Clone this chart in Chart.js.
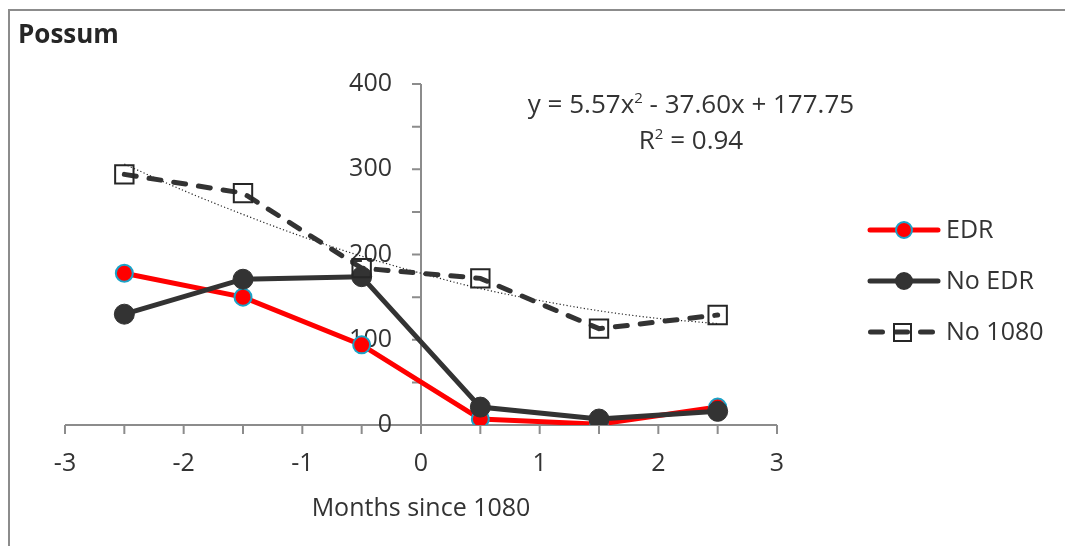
<!DOCTYPE html>
<html>
<head>
<meta charset="utf-8">
<script src="https://cdn.jsdelivr.net/npm/chart.js@4"></script>
<style>
  body { margin: 0; background: #fff; font-family: "Open Sans", "Noto Sans", sans-serif; }
  #wrap { position: relative; width: 1065px; height: 546px; overflow: hidden; }
  #frame { position: absolute; left: 8px; top: 9px; width: 1070px; height: 560px; border: 2px solid #8c8c8c; box-sizing: border-box; }
  #title { position: absolute; left: 18px; top: 15px; font-size: 26px; font-weight: bold; color: #262626; line-height: 36px; }
  #eqn { position: absolute; left: 511px; top: 85px; width: 360px; text-align: center; font-size: 26px; color: #333; line-height: 36px; }
  #eqn sup { font-size: 15px; line-height: 0; }
  canvas { position: absolute; left: 0; top: 0; }
</style>
</head>
<body>
<div id="wrap">
  <div id="frame"></div>
  <canvas id="myChart" width="1065" height="546"></canvas>
  <div id="title">Possum</div>
  <div id="eqn">y = 5.57x<sup>2</sup> - 37.60x + 177.75<br>R<sup>2</sup> = 0.94</div>
</div>
<script>
// months since 1080 drop
const months = [-2.5, -1.5, -0.5, 0.5, 1.5, 2.5];
const edr = [178, 150, 94, 7, 1, 21];
const noEdr = [130, 171, 174, 21, 7, 16];
const no1080 = [294, 272, 184, 172, 113, 129];
// poly trendline for No 1080
const trendX = [-2.5, -2, -1.5, -1, -0.5, 0, 0.5, 1, 1.5, 2, 2.5];
const trendY = [306, 275, 247, 221, 198, 178, 160, 146, 134, 125, 119];
const xTicks = [-3, -2, -1, 0, 1, 2, 3];
const yTicks = [0, 100, 200, 300, 400];

const pts = (xs, ys) => xs.map((x, i) => ({ x: x, y: ys[i] }));
const txt = '#333333';
const axisCol = '#8c8c8c';
const fam = '"Open Sans", "Noto Sans", sans-serif';

// legend drawn by hand: line with marker in the middle
const sideLegend = {
  id: 'sideLegend',
  afterDraw(chart) {
    const c = chart.ctx;
    [0, 1, 2].forEach((di, i) => {
      const ds = chart.data.datasets[di];
      const y = 230 + i * 51;
      c.save();
      c.strokeStyle = ds.borderColor;
      c.lineWidth = ds.borderWidth;
      c.lineCap = 'round';
      c.setLineDash(ds.borderDash || []);
      c.beginPath();
      c.moveTo(ds.borderDash ? 870.5 : 870, y);
      c.lineTo(ds.borderDash ? 933 : 938, y);
      c.stroke();
      c.setLineDash([]);
      if (ds.pointStyle === 'rect') {
        c.strokeStyle = ds.pointBorderColor;
        c.lineWidth = 2;
        c.strokeRect(894, y - 8, 17, 17);
      } else {
        c.fillStyle = ds.pointBackgroundColor;
        c.strokeStyle = ds.pointBorderColor;
        c.lineWidth = 2;
        c.beginPath();
        c.arc(904, y, 8, 0, Math.PI * 2);
        c.fill();
        c.stroke();
      }
      c.fillStyle = txt;
      c.font = '25px ' + fam;
      c.textBaseline = 'middle';
      c.fillText(ds.label, 946, y + 1);
      c.restore();
    });
  }
};

const ctx = document.getElementById('myChart').getContext('2d');
const myChart = new Chart(ctx, {
  type: 'scatter',
  data: {
    datasets: [{
      label: 'EDR',
      data: pts(months, edr),
      showLine: true,
      borderColor: '#ff0000',
      borderWidth: 5,
      pointBackgroundColor: '#ff0000',
      pointBorderColor: '#1aa3c8',
      pointBorderWidth: 2,
      pointRadius: 8.5,
      order: 2
    }, {
      label: 'No EDR',
      data: pts(months, noEdr),
      showLine: true,
      borderColor: '#333333',
      borderWidth: 5,
      pointBackgroundColor: '#333333',
      pointBorderColor: '#333333',
      pointBorderWidth: 1,
      pointRadius: 10,
      order: 1
    }, {
      label: 'No 1080',
      data: pts(months, no1080),
      showLine: true,
      borderColor: '#333333',
      borderWidth: 5,
      borderDash: [12, 13],
      borderCapStyle: 'round',
      pointStyle: 'rect',
      pointBackgroundColor: 'rgba(255,255,255,0)',
      pointBorderColor: '#262626',
      pointBorderWidth: 2,
      pointRadius: 13,
      order: 0
    }, {
      label: 'trend',
      data: pts(trendX, trendY),
      showLine: true,
      borderColor: '#262626',
      borderWidth: 1.2,
      borderDash: [1.2, 2.3],
      pointRadius: 0,
      cubicInterpolationMode: 'monotone',
      order: 3
    }]
  },
  options: {
    responsive: false,
    animation: false,
    layout: { padding: { left: 65, right: 288, top: 84, bottom: 30.5 } },
    plugins: {
      legend: { display: false },
      tooltip: { enabled: false }
    },
    scales: {
      x: {
        type: 'linear',
        position: 'bottom',
        min: -3, max: 3,
        grid: { display: false, drawTicks: false },
        border: { display: false },
        ticks: {
          stepSize: 1,
          color: txt,
          font: { size: 25, family: fam },
          padding: 24,
          callback: v => xTicks.includes(v) ? String(v) : ''
        },
        title: {
          display: true,
          text: 'Months since 1080',
          color: txt,
          font: { size: 25, family: fam, lineHeight: 0.5 },
          padding: { top: 0, bottom: 0 }
        }
      },
      y: {
        type: 'linear',
        position: { x: 0 },
        min: 0, max: 400,
        grid: { display: false, drawTicks: false },
        border: { display: false },
        ticks: { stepSize: 100, display: false }
      }
    }
  },
  plugins: [sideLegend, {
    // axis lines, outward tick marks every half step, y labels left of the axis
    id: 'axesDraw',
    beforeDatasetsDraw(chart) {
      const c = chart.ctx, xs = chart.scales.x, ys = chart.scales.y;
      const x0 = xs.getPixelForValue(0), y0 = ys.getPixelForValue(0);
      c.save();
      c.strokeStyle = axisCol;
      c.lineWidth = 2;
      c.beginPath();
      c.moveTo(xs.left, y0); c.lineTo(xs.right, y0);
      c.moveTo(x0, ys.top); c.lineTo(x0, ys.bottom);
      for (let v = -3; v <= 3.001; v += 0.5) {
        const px = xs.getPixelForValue(v);
        c.moveTo(px, y0); c.lineTo(px, y0 + 9);
      }
      for (let v = 0; v <= 400; v += 50) {
        const py = ys.getPixelForValue(v);
        c.moveTo(x0 - 9, py); c.lineTo(x0, py);
      }
      c.stroke();
      c.fillStyle = txt;
      c.font = '25px ' + fam;
      c.textAlign = 'right';
      c.textBaseline = 'middle';
      yTicks.forEach(v => c.fillText(String(v), x0 - 29, ys.getPixelForValue(v)));
      c.restore();
    }
  }]
});
</script>
</body>
</html>
